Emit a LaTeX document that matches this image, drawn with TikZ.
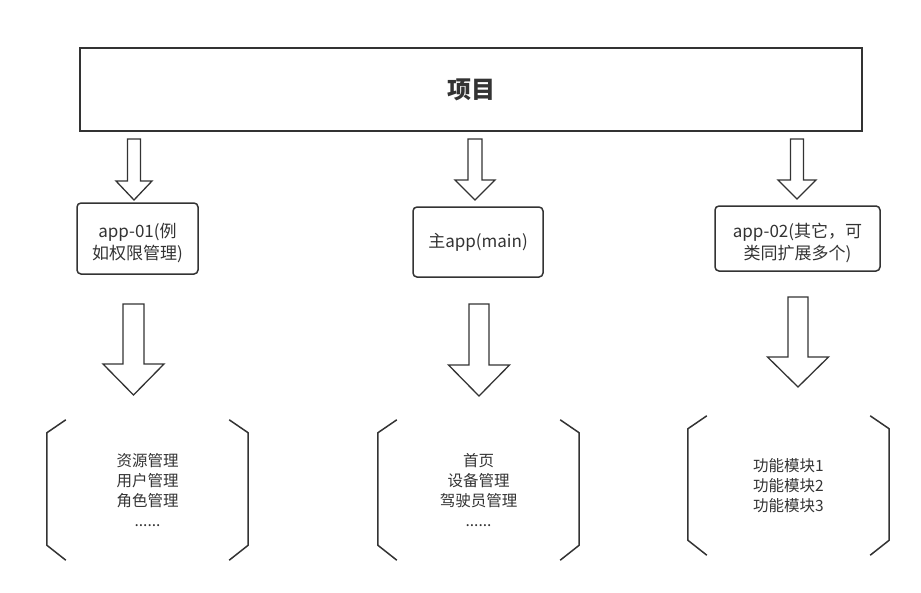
\documentclass[tikz,border=0pt]{standalone}
\usepackage{fontspec}
\setmainfont{Noto Sans CJK SC}
\usetikzlibrary{calc}
\definecolor{ink}{HTML}{333333}
\tikzset{
  box/.style={draw=ink, line width=1.6pt, inner sep=0pt},
  appbox/.style={draw=ink, line width=1.5pt, rounded corners=4pt, inner sep=0pt,
    align=center, text=ink, font=\fontsize{17}{22}\selectfont},
  twolines/.style={text height=44pt, text depth=3pt},
  listbox/.style={inner sep=0pt, align=center, text=ink,
    minimum width=201pt, font=\fontsize{15.5}{20}\selectfont},
  arrowline/.style={draw=ink, line width=1.3pt, line join=miter},
  bracketline/.style={draw=ink, line width=1.5pt}
}
\newcommand{\blockarrow}[5]{%
  \draw[arrowline] ($(#1)+(-#3,0)$) -- ($(#2)+(-#3,-#5)$) -- ($(#2)+(-#4,-#5)$)
    -- (#2) -- ($(#2)+(#4,-#5)$) -- ($(#2)+(#3,-#5)$) -- ($(#1)+(#3,0)$) -- cycle;}
\newcommand{\brackets}[1]{%
  \draw[bracketline] ($(#1.north west)+(19,0)$) -- ($(#1.north west)+(0,13)$)
    -- ($(#1.south west)+(0,-15)$) -- ($(#1.south west)+(19,0)$);
  \draw[bracketline] ($(#1.north east)+(-19,0)$) -- ($(#1.north east)+(0,13)$)
    -- ($(#1.south east)+(0,-15)$) -- ($(#1.south east)+(-19,0)$);}
\begin{document}
\begin{tikzpicture}[x=1pt, y=-1pt]
  \useasboundingbox (0,0) rectangle (921,592);
  \node[box, minimum width=782pt, minimum height=83pt, text=ink,
    font=\fontsize{24}{28}\selectfont\bfseries] (top) at (471,89.5) {项目};
  \node[appbox, twolines, minimum width=121pt, minimum height=71pt] (app1) at (137.5,238.5)
    {app-01(例\\如权限管理)};
  \node[appbox, minimum width=130pt, minimum height=70pt] (app2) at (478,242)
    {主app(main)};
  \node[appbox, twolines, minimum width=165pt, minimum height=65pt] (app3) at (797.5,238.5)
    {app-02(其它，可\\类同扩展多个)};
  \node[listbox, minimum height=140pt] (list1) at (147.5,490)
    {资源管理\\用户管理\\角色管理\\......};
  \node[listbox, minimum height=140pt] (list2) at (478.5,490)
    {首页\\设备管理\\驾驶员管理\\......};
  \node[listbox, minimum height=139pt] (list3) at (788.5,485.5)
    {功能模块1\\功能模块2\\功能模块3};
  % arrows from the project box
  \coordinate (s1) at (134,139);   \coordinate (t1) at (134,200);
  \coordinate (s2) at (475,139);   \coordinate (t2) at (475,200);
  \coordinate (s3) at (797,139);   \coordinate (t3) at (797,199);
  \blockarrow{s1}{t1}{6.5}{18}{19}
  \blockarrow{s2}{t2}{7}{20}{20}
  \blockarrow{s3}{t3}{6.5}{19}{19}
  % arrows to the module lists
  \coordinate (u1) at (133.5,304); \coordinate (v1) at (133.5,395);
  \coordinate (u2) at (479,304);   \coordinate (v2) at (479,396);
  \coordinate (u3) at (798,297);   \coordinate (v3) at (798,387);
  \blockarrow{u1}{v1}{10.5}{30.5}{31}
  \blockarrow{u2}{v2}{10}{30.5}{31}
  \blockarrow{u3}{v3}{10}{30.5}{30}
  \brackets{list1}
  \brackets{list2}
  \brackets{list3}
\end{tikzpicture}
\end{document}
